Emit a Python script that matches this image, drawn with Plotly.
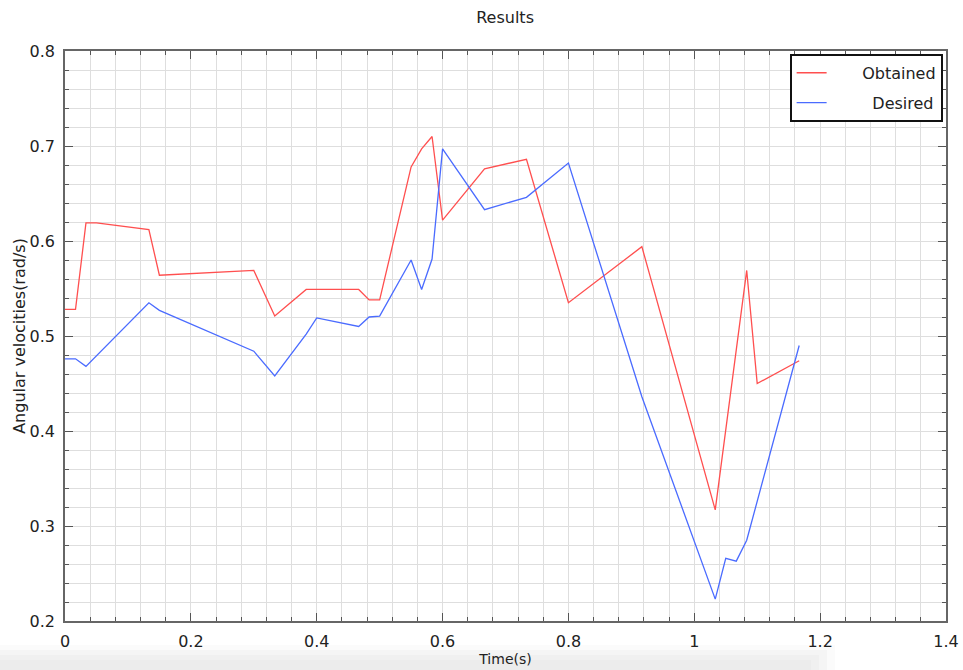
import plotly.graph_objects as go

time_obtained = [0.0, 0.0167, 0.0333, 0.05, 0.1333, 0.15, 0.3, 0.3333, 0.3833, 0.4, 0.4667,
                 0.4833, 0.5, 0.55, 0.5667, 0.5833, 0.6, 0.6667, 0.7333, 0.8, 0.9167,
                 1.0333, 1.0833, 1.1, 1.1667]
obtained = [0.528, 0.528, 0.619, 0.619, 0.612, 0.564, 0.569, 0.521, 0.549, 0.549, 0.549,
            0.538, 0.538, 0.678, 0.697, 0.710, 0.622, 0.676, 0.686, 0.535, 0.594,
            0.317, 0.569, 0.450, 0.474]

time_desired = [0.0, 0.0167, 0.0333, 0.1333, 0.15, 0.3, 0.3333, 0.3833, 0.4, 0.4667,
                0.4833, 0.5, 0.55, 0.5667, 0.5833, 0.6, 0.6667, 0.7333, 0.8, 0.9167,
                1.0333, 1.05, 1.0667, 1.0833, 1.1667]
desired = [0.476, 0.476, 0.468, 0.535, 0.527, 0.484, 0.458, 0.502, 0.519, 0.510,
           0.520, 0.521, 0.580, 0.549, 0.581, 0.697, 0.633, 0.646, 0.682, 0.436,
           0.223, 0.266, 0.263, 0.285, 0.490]

x_ticks = [0, 0.2, 0.4, 0.6, 0.8, 1.0, 1.2, 1.4]
x_tick_labels = ["0", "0.2", "0.4", "0.6", "0.8", "1", "1.2", "1.4"]
y_ticks = [0.2, 0.3, 0.4, 0.5, 0.6, 0.7, 0.8]
y_tick_labels = ["0.2", "0.3", "0.4", "0.5", "0.6", "0.7", "0.8"]

RED = "#ff4f4f"
BLUE = "#4a6bff"
FONT = "DejaVu Sans, Verdana, sans-serif"
TXT = "#222222"
NB = "\u00a0"

fig = go.Figure()
fig.add_trace(go.Scatter(x=time_obtained, y=obtained, mode="lines", legendgroup="a",
                         name=NB * 6 + "Obtained", line=dict(color=RED, width=1.3)))
fig.add_trace(go.Scatter(x=time_desired, y=desired, mode="lines", legendgroup="b",
                         name=NB * 8 + "Desired", line=dict(color=BLUE, width=1.3)))

axis_common = dict(
    showline=True, linecolor="#666666", linewidth=1.5, mirror="allticks",
    ticks="inside", ticklen=8, tickcolor="#555555", tickwidth=1,
    showgrid=True, gridcolor="#dedede", gridwidth=1, zeroline=False,
    tickfont=dict(family=FONT, size=16, color=TXT), automargin=False,
)

fig.update_xaxes(
    range=[0, 1.4], tickmode="array", tickvals=x_ticks, ticktext=x_tick_labels,
    ticklabelstandoff=5,
    minor=dict(tickmode="linear", dtick=0.04, tick0=0, ticks="inside", ticklen=4,
               tickcolor="#555555", showgrid=True, gridcolor="#dedede", gridwidth=1),
    title=dict(text="Time(s)", font=dict(family=FONT, size=14, color=TXT), standoff=4),
    **axis_common,
)
fig.update_yaxes(
    range=[0.2, 0.8], tickmode="array", tickvals=y_ticks, ticktext=y_tick_labels,
    ticklabelstandoff=5,
    minor=dict(tickmode="linear", dtick=0.02, tick0=0.2, ticks="inside", ticklen=4,
               tickcolor="#555555", showgrid=True, gridcolor="#dedede", gridwidth=1),
    title=dict(text="Angular velocities(rad/s)", font=dict(family=FONT, size=16, color=TXT),
               standoff=0),
    **axis_common,
)

fig.update_layout(
    width=963, height=670,
    margin=dict(l=65, r=17, t=51, b=49),
    paper_bgcolor="white", plot_bgcolor="white",
    title=dict(text="Results", x=0.5245, xanchor="center", y=1 - 17 / 670, yanchor="middle",
               font=dict(family=FONT, size=16, color=TXT)),
    legend=dict(x=0.8225, y=0.995, xanchor="left", yanchor="top",
                bordercolor="#111111", borderwidth=2, bgcolor="white",
                font=dict(family=FONT, size=16, color=TXT),
                traceorder="grouped", tracegroupgap=6),
    showlegend=True,
)

# light gray band at the bottom of the screenshot
for i, c in enumerate(["#fbfbfb", "#f5f5f5", "#f0f0f0", "#ececec"]):
    fig.add_shape(type="rect", xref="paper", yref="paper", layer="below",
                  x0=-65 / 881, x1=(835 - 65 - i * 8) / 881,
                  y0=-49 / 570, y1=(-24 - i * 5) / 570,
                  fillcolor=c, line=dict(width=0))

fig.write_html("out.html", config={"displayModeBar": False},
               post_script="document.body.style.margin='0px';")
